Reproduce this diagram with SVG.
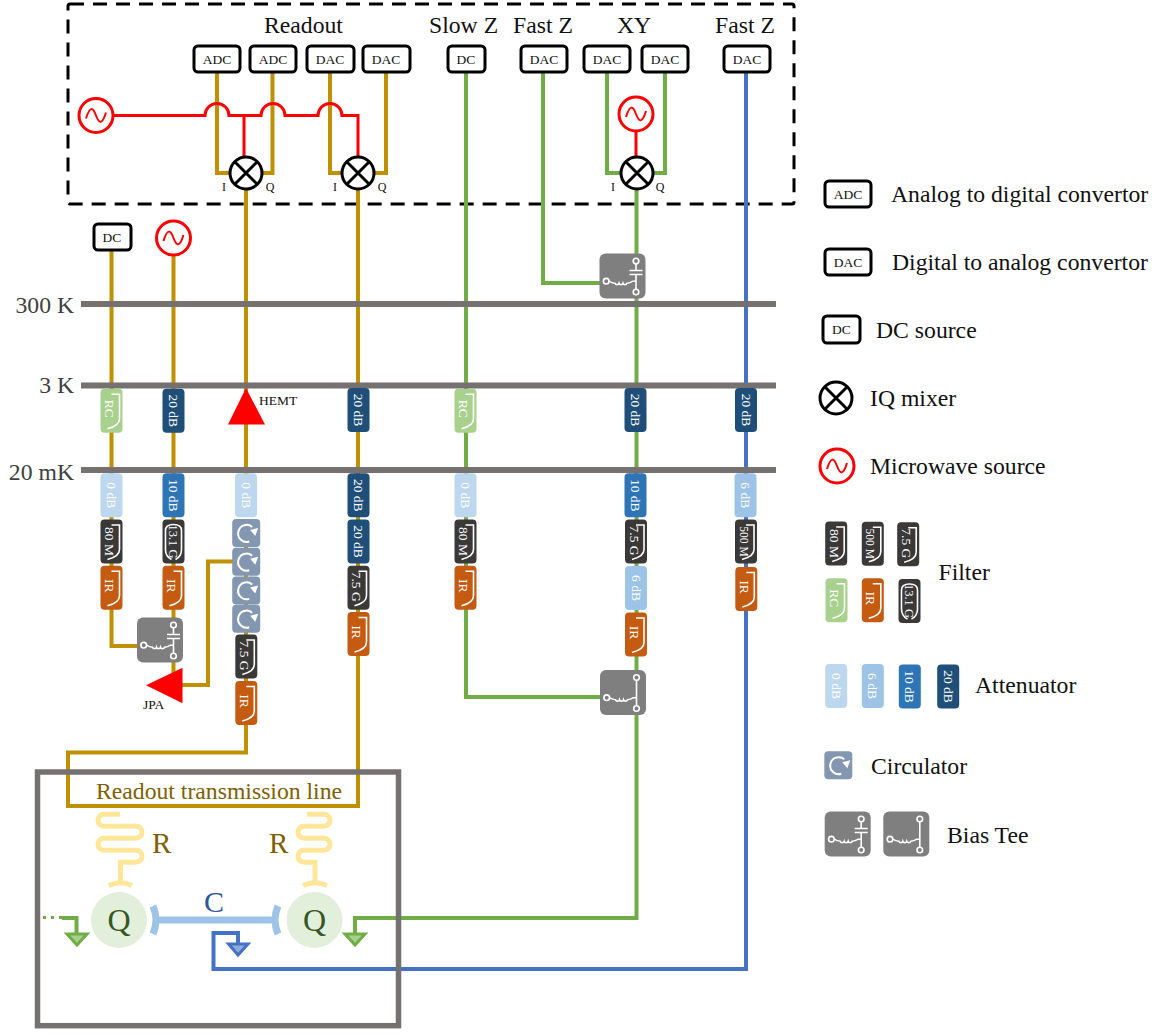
<svg xmlns="http://www.w3.org/2000/svg" width="1165" height="1034" viewBox="0 0 1165 1034">
<style>
text{font-family:"Liberation Serif","Times New Roman",serif;fill:#111}
.h{font-size:23.7px}.l{font-size:23.7px}.m{font-size:13.5px;text-anchor:middle}.iq{font-size:12px;text-anchor:middle}
.v{font-size:13.5px;text-anchor:middle;fill:#fff}
.c{fill:none;stroke-width:4;stroke-linejoin:miter}
.g{stroke:#BF9000}.gr{stroke:#70AD47}.bl{stroke:#4472C4}.r{stroke:#f00;stroke-width:3}
.bar{stroke:#767171;stroke-width:6;fill:none}
.inst{fill:#fff;stroke:#000;stroke-width:3}
.filter{fill:#3B3838}.rc{fill:#A9D18E}.ir{fill:#C55A11}.a0{fill:#BDD7EE}.a6{fill:#9DC3E6}.a10{fill:#2E75B6}.a20{fill:#1F4E79}
.w{fill:none;stroke:#fff;stroke-width:1.6}
.y{fill:none;stroke:#FFE699;stroke-width:5}
.cb{fill:none;stroke:#9DC3E6}
.tx{fill:#7F6000}
</style>
<defs>
<rect id="box" x="-11" y="-22" width="22" height="44" rx="4"/>
<path id="fc" class="w" d="M0,-16.500 H8 V8 Q8,15 -4,18"/>
<path id="fb" class="w" d="M-2,18 Q-8,15 -8,8 V-11 Q-8,-17 0,-17 Q8,-17 8,-11 V8 Q8,15 2,18"/>
<g id="circ"><rect x="-14" y="-14" width="28" height="28" rx="4" fill="#8497B0"/><path d="M3,8.500 A8.500,8.500 0 1 1 6,-6" fill="none" stroke="#fff" stroke-width="2"/><path d="M4,-3 L12,-5 L9,3 Z" fill="#fff"/></g>
<g id="wig"><rect x="0" y="0" width="46" height="45" rx="6" fill="#7F7F7F"/><circle cx="6.700" cy="27.700" r="2.800" class="w"/><path class="w" d="M9.500,27.700 q3,2 6,2 a2.100,2.100 0 0 0 4,0 a2.100,2.100 0 0 0 4,0 a2.100,2.100 0 0 0 4,0 q3,0 6,-2 H36"/><circle cx="36.500" cy="7.500" r="2.800" class="w"/><circle cx="36.500" cy="38.500" r="2.800" class="w"/></g>
<g id="tee1"><use href="#wig"/><path class="w" d="M36.500,10.300 V17 M30,17 H43 M30,21 H43 M36.500,21 V35.700"/></g>
<g id="tee2"><use href="#wig"/><path class="w" d="M36.500,10.300 V35.700"/></g>
<g id="src"><circle r="17" fill="#fff" stroke="#f00" stroke-width="3"/><path d="M-10,3 C-6,-10 -3,-8 0,0 C3,8 6,10 10,-3" fill="none" stroke="#f00" stroke-width="2"/></g>
<g id="mix"><circle r="16" fill="#fff" stroke="#000" stroke-width="3"/><path d="M-11,-11 L11,11 M-11,11 L11,-11" stroke="#000" stroke-width="3"/></g>
</defs>

<rect x="68" y="4" width="726" height="200" rx="2" fill="none" stroke="#000" stroke-width="3" stroke-dasharray="14 9"/>

<g id="connectors">
<path class="c g" d="M217,72 V173 H232 M272.500,72 V173 H260 M330,72 V173 H344 M386,72 V173 H372"/>
<path class="c g" d="M246,189 V495 M246,520 V725 V752.500 H68 V806 H358 V189"/>
<path class="c g" d="M111.500,250 V646 H137 M173.500,255 V685 M173,685 H208 V561.500 H233"/>
<path class="c r" d="M113,115.500 H205 A12,12 0 0 1 229,115.500 H261 A12,12 0 0 1 285,115.500 H318 A12,12 0 0 1 342,115.500 H358 V158 M244,115.500 V158"/>
<path class="c gr" d="M466,72 V697 H600 M543,72 V283 H600 M607,72 V173 H623 M665,72 V173 H651 M636.500,189 V918 H355 V935"/>
<path class="c r" d="M636,130 V158"/>
<path class="c bl" d="M746,72 V969 H213.500 V933 H238 V945"/>
<path class="c gr" d="M62,918 H76.500 V935"/>
<path class="c gr" stroke-dasharray="3 5" style="stroke-width:3" d="M43,917.500 H62"/>
</g>

<g id="stages">
<path class="bar" d="M81,304 H776 M81,385.500 H776 M81,470 H776"/>
</g>

<g id="instruments">
<g id="n-adc1"><rect class="inst" x="194" y="46" width="46" height="26" rx="4"/><text class="m" x="217" y="64">ADC</text></g>
<g id="n-adc2"><rect class="inst" x="250" y="46" width="46" height="26" rx="4"/><text class="m" x="273" y="64">ADC</text></g>
<g id="n-dac1"><rect class="inst" x="307" y="46" width="47" height="26" rx="4"/><text class="m" x="330" y="64">DAC</text></g>
<g id="n-dac2"><rect class="inst" x="363" y="46" width="47" height="26" rx="4"/><text class="m" x="386" y="64">DAC</text></g>
<g id="n-dc1"><rect class="inst" x="448" y="46" width="37" height="26" rx="4"/><text class="m" x="466" y="64">DC</text></g>
<g id="n-dac3"><rect class="inst" x="521" y="46" width="46" height="26" rx="4"/><text class="m" x="544" y="64">DAC</text></g>
<g id="n-dac4"><rect class="inst" x="584" y="46" width="46" height="26" rx="4"/><text class="m" x="607" y="64">DAC</text></g>
<g id="n-dac5"><rect class="inst" x="642" y="46" width="46" height="26" rx="4"/><text class="m" x="665" y="64">DAC</text></g>
<g id="n-dac6"><rect class="inst" x="724" y="46" width="46" height="26" rx="4"/><text class="m" x="747" y="64">DAC</text></g>
<g id="n-dc2"><rect class="inst" x="94" y="224" width="37" height="26" rx="4"/><text class="m" x="112" y="242">DC</text></g>
<use id="n-src1" href="#src" x="96" y="115.500"/>
<use id="n-src2" href="#src" x="636" y="114"/>
<use id="n-src3" href="#src" x="173.500" y="238"/>
<use id="n-mix1" href="#mix" x="246" y="173"/>
<use id="n-mix2" href="#mix" x="358" y="173"/>
<use id="n-mix3" href="#mix" x="637" y="173"/>
<text class="iq" x="224" y="191">I</text><text class="iq" x="270" y="191">Q</text>
<text class="iq" x="335" y="191">I</text><text class="iq" x="382" y="191">Q</text>
<text class="iq" x="613" y="191">I</text><text class="iq" x="660" y="191">Q</text>
</g>

<g id="labels">
<text class="h" x="264" y="33">Readout</text>
<text class="h" x="429" y="33">Slow Z</text>
<text class="h" x="513" y="33">Fast Z</text>
<text class="h" x="617" y="33">XY</text>
<text class="h" x="715" y="33">Fast Z</text>
<text class="h" x="74" y="313" text-anchor="end" style="fill:#404040">300 K</text>
<text class="h" x="74" y="393" text-anchor="end" style="fill:#404040">3 K</text>
<text class="h" x="74" y="480" text-anchor="end" style="fill:#404040">20 mK</text>
<text x="259" y="405" style="font-size:13.500px">HEMT</text>
<text x="143" y="709" style="font-size:13.500px">JPA</text>
</g>

<g id="col-1">
<g id="f1" transform="translate(111.500,410.700)"><use href="#box" class="rc"/><use href="#fc"/><text class="v" transform="rotate(90)" y="6.500" x="-2">RC</text></g>
<g id="f2" transform="translate(111.500,495.300)"><use href="#box" class="a0"/><text class="v" transform="rotate(90)" y="4.500">0 dB</text></g>
<g id="f3" transform="translate(111.500,541.500)"><use href="#box" class="filter"/><use href="#fc"/><text class="v" transform="rotate(90)" y="6.500">80 M</text></g>
<g id="f4" transform="translate(111.500,587.700)"><use href="#box" class="ir"/><use href="#fc"/><text class="v" transform="rotate(90)" y="6.500" x="-2">IR</text></g>
</g>
<g id="col-2">
<g id="g1" transform="translate(173.500,410.700)"><use href="#box" class="a20"/><text class="v" transform="rotate(90)" y="4.500">20 dB</text></g>
<g id="g2" transform="translate(173.500,495.300)"><use href="#box" class="a10"/><text class="v" transform="rotate(90)" y="4.500">10 dB</text></g>
<g id="g3" transform="translate(173.500,541.500)"><use href="#box" class="filter"/><use href="#fb"/><text class="v" transform="rotate(90)" y="4.500" style="font-size:12.500px">13.1 G</text></g>
<g id="g4" transform="translate(173.500,587.700)"><use href="#box" class="ir"/><use href="#fc"/><text class="v" transform="rotate(90)" y="6.500" x="-2">IR</text></g>
<use id="tee-a" href="#tee1" x="137" y="617.500"/>
<path id="jpa" d="M146,685.300 L182.500,667.700 V703.300 Z" fill="#f00"/>
</g>
<g id="col-3">
<path id="hemt" d="M246,388 L265,424.500 H228 Z" fill="#f00"/>
<g id="h1" transform="translate(246,495.300)"><use href="#box" class="a0"/><text class="v" transform="rotate(90)" y="4.500">0 dB</text></g>
<use id="c1" href="#circ" x="246.200" y="533"/>
<use id="c2" href="#circ" x="246.200" y="561.700"/>
<use id="c3" href="#circ" x="246.200" y="590.400"/>
<use id="c4" href="#circ" x="246.200" y="618.700"/>
<g id="h2" transform="translate(246.300,656.500)"><use href="#box" class="filter"/><use href="#fc"/><text class="v" transform="rotate(90)" y="6.500" x="-1">7.5 G</text></g>
<g id="h3" transform="translate(246.300,703)"><use href="#box" class="ir"/><use href="#fc"/><text class="v" transform="rotate(90)" y="6.500" x="-2">IR</text></g>
</g>
<g id="col-4">
<g id="i1" transform="translate(358.500,410)"><use href="#box" class="a20"/><text class="v" transform="rotate(90)" y="4.500">20 dB</text></g>
<g id="i2" transform="translate(358.500,495.300)"><use href="#box" class="a20"/><text class="v" transform="rotate(90)" y="4.500">20 dB</text></g>
<g id="i3" transform="translate(358.500,541.500)"><use href="#box" class="a20"/><text class="v" transform="rotate(90)" y="4.500">20 dB</text></g>
<g id="i4" transform="translate(358.500,587.700)"><use href="#box" class="filter"/><use href="#fc"/><text class="v" transform="rotate(90)" y="6.500" x="-1">7.5 G</text></g>
<g id="i5" transform="translate(358.500,634)"><use href="#box" class="ir"/><use href="#fc"/><text class="v" transform="rotate(90)" y="6.500" x="-2">IR</text></g>
</g>
<g id="col-5">
<g id="j1" transform="translate(465.500,410.700)"><use href="#box" class="rc"/><use href="#fc"/><text class="v" transform="rotate(90)" y="6.500" x="-2">RC</text></g>
<g id="j2" transform="translate(465.500,495.300)"><use href="#box" class="a0"/><text class="v" transform="rotate(90)" y="4.500">0 dB</text></g>
<g id="j3" transform="translate(465.500,541.500)"><use href="#box" class="filter"/><use href="#fc"/><text class="v" transform="rotate(90)" y="6.500">80 M</text></g>
<g id="j4" transform="translate(465.500,587.700)"><use href="#box" class="ir"/><use href="#fc"/><text class="v" transform="rotate(90)" y="6.500" x="-2">IR</text></g>
</g>
<g id="col-6">
<use id="tee-b" href="#tee1" x="599.500" y="253.500"/>
<g id="k1" transform="translate(635.500,410)"><use href="#box" class="a20"/><text class="v" transform="rotate(90)" y="4.500">20 dB</text></g>
<g id="k2" transform="translate(635.500,495.300)"><use href="#box" class="a10"/><text class="v" transform="rotate(90)" y="4.500">10 dB</text></g>
<g id="k3" transform="translate(636,541.500)"><use href="#box" class="filter"/><use href="#fc"/><text class="v" transform="rotate(90)" y="6.500" x="-1">7.5 G</text></g>
<g id="k4" transform="translate(636,588)"><use href="#box" class="a6"/><text class="v" transform="rotate(90)" y="4.500">6 dB</text></g>
<g id="k5" transform="translate(636,634.500)"><use href="#box" class="ir"/><use href="#fc"/><text class="v" transform="rotate(90)" y="6.500" x="-2">IR</text></g>
<use id="tee-c" href="#tee2" x="600" y="670"/>
</g>
<g id="col-7">
<g id="m1" transform="translate(746,410)"><use href="#box" class="a20"/><text class="v" transform="rotate(90)" y="4.500">20 dB</text></g>
<g id="m2" transform="translate(745.500,495.300)"><use href="#box" class="a6"/><text class="v" transform="rotate(90)" y="4.500">6 dB</text></g>
<g id="m3" transform="translate(746,541.500)"><use href="#box" class="filter"/><use href="#fc"/><text class="v" transform="rotate(90)" y="6.500" style="font-size:11.500px">500 M</text></g>
<g id="m4" transform="translate(746.300,589)"><use href="#box" class="ir"/><use href="#fc"/><text class="v" transform="rotate(90)" y="6.500" x="-2">IR</text></g>
</g>

<g id="chip">
<rect x="37.500" y="772" width="361" height="253.700" fill="none" stroke="#767171" stroke-width="5.500"/>
<text x="96" y="798.500" class="tx" style="font-size:23.700px">Readout transmission line</text>
<path class="y" d="M120,814.300 H104 a6,6 0 0 0 0,12 H136 a6,6 0 0 1 0,12 H104 a6,6 0 0 0 0,12 H136 a6,6 0 0 1 0,12 H120.500 V884"/>
<path class="y" d="M108.700,885.500 Q120.500,880 132,885.500"/>
<path class="y" d="M307,814.300 H324 a6,6 0 0 1 0,12 H304 a6,6 0 0 0 0,12 H324 a6,6 0 0 1 0,12 H304 a6,6 0 0 0 0,12 H315 V884"/>
<path class="y" d="M303,885.500 Q315,880 327,885.500"/>
<g id="q1"><circle cx="119" cy="920" r="28" fill="#E2EFDA"/><text x="119" y="931" text-anchor="middle" style="font-size:32px;fill:#375623">Q</text></g>
<g id="q2"><circle cx="314.500" cy="920" r="28" fill="#E2EFDA"/><text x="314.500" y="931" text-anchor="middle" style="font-size:32px;fill:#375623">Q</text></g>
<text x="152" y="853" class="tx" style="font-size:29px">R</text>
<text x="269" y="853" class="tx" style="font-size:29px">R</text>
<path class="cb" stroke-width="7" d="M155,920 H277"/>
<path class="cb" stroke-width="7" d="M153,906 Q159,920 153,934 M278,906 Q272,920 278,934"/>
<text x="204" y="912" style="font-size:30px;fill:#2F5597">C</text>
<path d="M345,934 H365 L355,945 Z" fill="#A9D18E" stroke="#70AD47" stroke-width="3"/>
<path d="M67,934 H87 L77,945 Z" fill="#A9D18E" stroke="#70AD47" stroke-width="3"/>
<path d="M228.500,944 H248 L238,955 Z" fill="#8FAADC" stroke="#4472C4" stroke-width="3"/>
</g>

<g id="legend">
<g id="l-adc"><rect class="inst" x="825" y="181" width="46" height="26" rx="4"/><text class="m" x="848" y="199">ADC</text><text class="l" x="891" y="202">Analog to digital convertor</text></g>
<g id="l-dac"><rect class="inst" x="825" y="249" width="46" height="26" rx="4"/><text class="m" x="848" y="267">DAC</text><text class="l" x="892" y="270">Digital to analog convertor</text></g>
<g id="l-dc"><rect class="inst" x="823" y="316" width="37" height="27" rx="4"/><text class="m" x="841.500" y="334">DC</text><text class="l" x="876" y="338">DC source</text></g>
<g id="l-mix"><use href="#mix" x="836" y="398"/><text class="l" x="870" y="406">IQ mixer</text></g>
<g id="l-src"><use href="#src" x="837" y="466"/><text class="l" x="870" y="474">Microwave source</text></g>
<g id="l-filter">
<g transform="translate(836.200,543.500)"><use href="#box" class="filter"/><use href="#fc"/><text class="v" transform="rotate(90)" y="6.500">80 M</text></g>
<g transform="translate(872.800,543.700)"><use href="#box" class="filter"/><use href="#fc"/><text class="v" transform="rotate(90)" y="6.500" style="font-size:11.500px">500 M</text></g>
<g transform="translate(908.200,544.300)"><use href="#box" class="filter"/><use href="#fc"/><text class="v" transform="rotate(90)" y="6.500" x="-1">7.5 G</text></g>
<g transform="translate(836.500,600.300)"><use href="#box" class="rc"/><use href="#fc"/><text class="v" transform="rotate(90)" y="6.500" x="-2">RC</text></g>
<g transform="translate(872.800,600.300)"><use href="#box" class="ir"/><use href="#fc"/><text class="v" transform="rotate(90)" y="6.500" x="-2">IR</text></g>
<g transform="translate(909.500,601)"><use href="#box" class="filter"/><use href="#fb"/><text class="v" transform="rotate(90)" y="4.500" style="font-size:12.500px">13.1 G</text></g>
<text class="l" x="938.500" y="580">Filter</text></g>
<g id="l-att">
<g transform="translate(836.200,686)"><use href="#box" class="a0"/><text class="v" transform="rotate(90)" y="4.500">0 dB</text></g>
<g transform="translate(872.800,686)"><use href="#box" class="a6"/><text class="v" transform="rotate(90)" y="4.500">6 dB</text></g>
<g transform="translate(909.800,686.500)"><use href="#box" class="a10"/><text class="v" transform="rotate(90)" y="4.500">10 dB</text></g>
<g transform="translate(948.200,686.500)"><use href="#box" class="a20"/><text class="v" transform="rotate(90)" y="4.500">20 dB</text></g>
<text class="l" x="975" y="693">Attenuator</text></g>
<g id="l-circ"><use href="#circ" x="838.300" y="765.300"/><text class="l" x="871" y="774">Circulator</text></g>
<g id="l-tee"><use href="#tee1" x="824.700" y="811.500"/><use href="#tee2" x="883.300" y="811.500"/><text class="l" x="947" y="843">Bias Tee</text></g>
</g>
</svg>
